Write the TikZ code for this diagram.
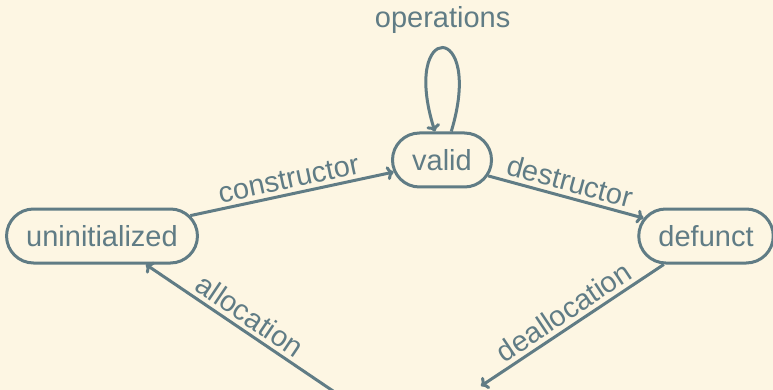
\documentclass[tikz,border=0pt]{standalone}
\usepackage{fontspec}
\setmainfont{Liberation Sans}
\usetikzlibrary{shapes.misc,arrows.meta}
\definecolor{paper}{HTML}{FDF6E3}
\definecolor{ink}{HTML}{607C85}
\tikzset{
  state/.style={rounded rectangle, draw=ink, line width=3pt, text=ink,
    minimum height=54pt, inner xsep=17.5pt, font=\fontsize{29}{34}\selectfont},
  trans/.style={draw=ink, line width=3pt, -{To[length=7pt,width=14pt]}},
  lbl/.style={text=ink, font=\fontsize{29}{34}\selectfont, sloped, above, midway, inner sep=4pt}
}
\begin{document}
\begin{tikzpicture}[x=1pt,y=-1pt]
  \fill[paper] (0,0) rectangle (773,390);
  \useasboundingbox (0,0) rectangle (773,390);
  \clip (0,0) rectangle (773,390);

  % states
  \node[state] (valid) at (442,160) {valid};
  \node[state] (uninit) at (102,236) {uninitialized};
  \node[state] (defunct) at (706,236) {defunct};

  % off-page state reached by deallocation / left by allocation
  \coordinate (freeIn) at (481,386);
  \coordinate (freeOut) at (336,393);

  % transitions
  \draw[trans] (uninit.13) -- node[lbl] {constructor} (valid.194);
  \draw[trans] (valid.341) -- node[lbl] {destructor} (defunct.164);
  \draw[trans] (defunct.214) -- node[lbl] {deallocation} (freeIn);
  \draw[trans] (freeOut) -- node[lbl] {allocation} (uninit.327);

  % self loop
  \draw[trans] (valid.72) .. controls (485,20) and (400,20) .. node[above, text=ink, font=\fontsize{29}{34}\selectfont, yshift=10pt] (ops) {operations} (valid.104);
\end{tikzpicture}
\end{document}
